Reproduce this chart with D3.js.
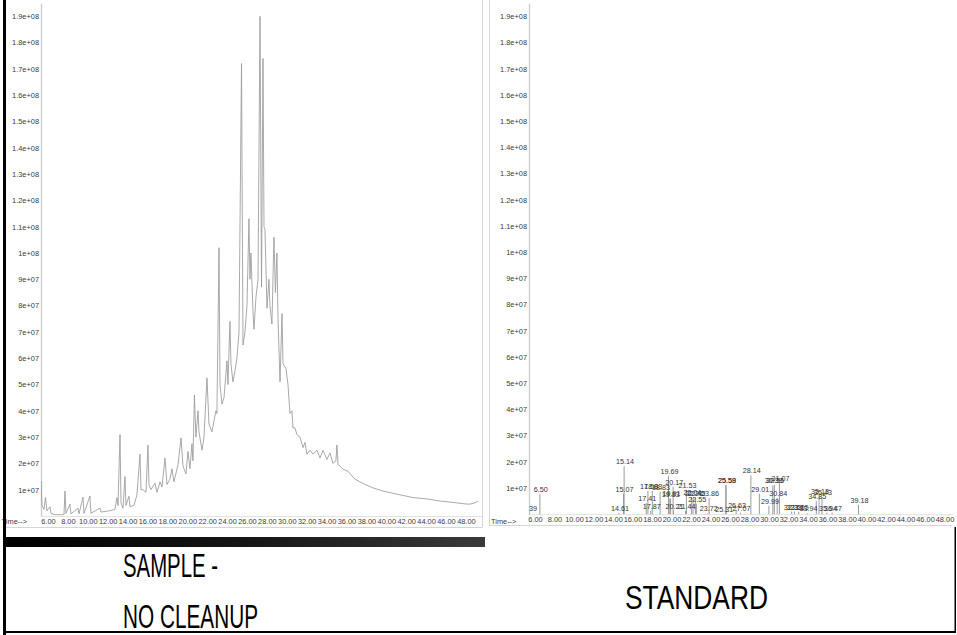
<!DOCTYPE html>
<html><head><meta charset="utf-8">
<script src="https://cdn.jsdelivr.net/npm/d3@7"></script>
<style>body{margin:0;background:#fff;} svg{display:block;font-family:"Liberation Sans",Arial,sans-serif;}</style>
</head><body><svg id="c" width="957" height="635"></svg>
<script>
// ---------- DATA (intensities in millions of counts, time in minutes) ----------
const yTickValues = [10,20,30,40,50,60,70,80,90,100,110,120,130,140,150,160,170,180,190];
const yTickLabels = ["1e+07","2e+07","3e+07","4e+07","5e+07","6e+07","7e+07","8e+07","9e+07","1e+08",
  "1.1e+08","1.2e+08","1.3e+08","1.4e+08","1.5e+08","1.6e+08","1.7e+08","1.8e+08","1.9e+08"];
const timeTicks = [6,8,10,12,14,16,18,20,22,24,26,28,30,32,34,36,38,40,42,44,46,48];
const timeTickLabels = ["6.00","8.00","10.00","12.00","14.00","16.00","18.00","20.00","22.00","24.00","26.00",
  "28.00","30.00","32.00","34.00","36.00","38.00","40.00","42.00","44.00","46.00","48.00"];

// Sample (no cleanup) total ion chromatogram: [time, intensity]
const sampleTrace = [
 [5.25,5],[5.30,13.3],[5.40,4],[5.60,2.5],[5.75,7],[5.90,2],[6.20,3.5],[6.30,1],[6.70,0.5],[7.61,0.5],
 [7.71,9.5],[7.81,1],[8.21,4.5],[8.31,0.8],[9.02,3],[9.12,0.8],[9.52,7.2],[9.62,1],[10.22,7.6],[10.32,1],
 [11.23,3],[11.33,1.5],[12.23,2],[12.73,2.5],[12.93,7],[13.04,4],[13.24,31],[13.34,5],[13.54,3],[13.74,15],
 [13.84,4],[14.14,7.5],[14.24,3.5],[14.64,4],[14.94,8],[15.25,23.5],[15.35,10],[15.55,10],[15.85,9],[16.05,27],
 [16.15,12],[16.35,10],[16.75,12.5],[16.95,9],[17.26,13],[17.46,11],[17.76,22],[17.96,12],[18.26,14],[18.46,18],
 [18.66,13],[19.07,19.5],[19.37,29.7],[19.57,19],[19.87,16],[20.07,24.5],[20.27,18],[20.47,27.5],[20.57,21],[20.72,46],
 [20.87,30],[21.08,40],[21.18,32],[21.48,25],[21.68,30],[21.98,52.5],[22.18,35],[22.48,32],[22.68,36],[22.88,40],
 [22.98,39],[23.19,102],[23.29,50],[23.49,42.5],[23.69,45],[23.99,59],[24.09,50],[24.29,74],[24.39,58],[24.59,51],
 [24.79,55],[24.99,60],[25.20,70],[25.45,172],[25.60,65],[25.80,70],[26.00,80],[26.20,113],[26.30,90],[26.40,100],
 [26.60,78],[26.70,71],[26.90,83],[27.11,90],[27.31,190],[27.46,87],[27.61,174],[27.71,110],[27.81,109],[28.01,79],
 [28.21,90],[28.31,80],[28.51,73],[28.71,106],[28.86,85],[29.01,100],[29.12,75],[29.32,51],[29.52,77],[29.62,58],
 [29.92,56],[30.12,50],[30.32,39],[30.52,40],[30.62,33.5],[30.82,33.5],[31.02,31],[31.33,30],[31.63,26],[31.83,28],
 [32.03,23.5],[32.33,25],[32.63,23.5],[33.03,25],[33.34,22],[33.64,25],[34.04,21.5],[34.34,24],[34.64,20],[34.94,21],
 [35.04,27],[35.15,19.7],[35.65,17.8],[36.15,17],[36.85,14],[37.86,12],[38.66,10.7],[39.67,9.5],[41.07,8.3],[42.68,7],
 [44.09,6.5],[44.89,6],[45.40,5.7],[45.90,5.5],[47.10,5],[47.91,4.6],[48.41,4.5],[48.91,5],[49.22,5.7]
];

// Standard: integrated peaks (retention time, apex height, label)
const stdPeakTimes = [5.39,6.50,14.61,15.07,15.14,17.41,17.58,17.87,18.03,18.83,19.69,19.83,19.91,20.17,20.21,
  21.44,21.53,22.04,22.21,22.45,22.55,23.72,23.86,25.31,25.58,25.59,26.63,27.07,28.14,29.01,29.99,30.39,30.55,
  30.84,31.07,32.33,32.61,33.05,33.94,34.85,35.13,35.43,35.94,36.47,39.18];
const stdPeakHeights = [0.6,7.6,0.5,7.8,18.3,4.3,8.9,1.3,8.9,8.6,14.6,5.9,6.0,10.4,1.3,
  1.3,9.3,6.4,6.2,6.0,4.0,0.3,6.2,0.2,11.0,11.2,1.7,0.6,14.8,7.8,3.2,11.0,11.2,
  6.2,12.0,1.0,1.0,0.9,0.3,5.0,6.8,6.5,0.6,0.6,3.6];
const stdPeakLabels = ["5.39","6.50","14.61","15.07","15.14","17.41","17.58","17.87","18.03","18.83","19.69","19.83","19.91","20.17","20.21",
  "21.44","21.53","22.04","22.21","22.45","22.55","23.72","23.86","25.31","25.58","25.59","26.63","27.07","28.14","29.01","29.99","30.39","30.55",
  "30.84","31.07","32.33","32.61","33.05","33.94","34.85","35.13","35.43","35.94","36.47","39.18"];

const panelTitles = ["SAMPLE -","NO CLEANUP","STANDARD"];

// ---------- DRAWING ----------
const svg = d3.select("#c");
const defs = svg.append("defs");
const TXT = "#3a3a3a";

function drawAxes(g, x, y, x0, yBase) {
  const ya = d3.axisLeft(y).tickValues(yTickValues).tickFormat((d,i)=>yTickLabels[i]).tickSize(0).tickPadding(2);
  const ga = g.append("g").attr("transform",`translate(${x0},0)`).call(ya);
  ga.select(".domain").attr("stroke","#cfcfcf").attr("stroke-width",1.4);
  ga.selectAll("text").attr("font-size",7.4).attr("fill",TXT).attr("font-family","Liberation Sans, Arial, sans-serif");
  const xa = d3.axisBottom(x).tickValues(timeTicks).tickFormat((d,i)=>timeTickLabels[i]).tickSize(0).tickPadding(2.5);
  const gx = g.append("g").attr("transform",`translate(0,${yBase})`).call(xa);
  gx.select(".domain").attr("stroke","#c4c4c4").attr("stroke-dasharray","1,1");
  gx.selectAll("text").attr("font-size",7.4).attr("fill",TXT).attr("font-family","Liberation Sans, Arial, sans-serif");
}

// ---- Left panel: sample ----
const xL = d3.scaleLinear().domain([5.3, 49.62]).range([41, 482]);
const yL = d3.scaleLinear().domain([0, 195]).range([516, 3.15]);
const gL = svg.append("g");
defs.append("clipPath").attr("id","clipL").append("rect").attr("x",41).attr("y",0).attr("width",441).attr("height",517);
drawAxes(gL, xL, yL, 41, 516);
gL.append("path").datum(sampleTrace)
  .attr("clip-path","url(#clipL)")
  .attr("d", d3.line().x(d=>xL(d[0])).y(d=>yL(d[1])))
  .attr("fill","none").attr("stroke","#9a9a9a").attr("stroke-width",0.85).attr("stroke-linejoin","round");
gL.append("text").attr("x",27).attr("y",523.5).attr("text-anchor","end").attr("font-size",7.4).attr("fill",TXT).text("Time-->");
gL.append("line").attr("x1",482.5).attr("x2",482.5).attr("y1",0).attr("y2",527).attr("stroke","#d6d6d6");
gL.append("line").attr("x1",5).attr("x2",482.5).attr("y1",527.5).attr("y2",527.5).attr("stroke","#d6d6d6");

// ---- Right panel: standard ----
const xR = d3.scaleLinear().domain([5.385, 48.8]).range([529, 952.3]);
const yR = d3.scaleLinear().domain([0, 195]).range([514.2, 3.3]);
const gR = svg.append("g");
defs.append("clipPath").attr("id","clipR").append("rect").attr("x",529).attr("y",0).attr("width",423).attr("height",515);
drawAxes(gR, xR, yR, 529, 514.2);
const peaks = stdPeakTimes.map((t,i)=>({t, h:stdPeakHeights[i], label:stdPeakLabels[i]}));
const pg = gR.append("g").attr("clip-path","url(#clipR)");
pg.selectAll("line.pk").data(peaks).join("line").attr("class","pk")
  .attr("x1",d=>xR(d.t)).attr("x2",d=>xR(d.t)).attr("y1",yR(0)).attr("y2",d=>yR(d.h))
  .attr("stroke","#8f8f8f").attr("stroke-width",0.9);
pg.selectAll("text.pl").data(peaks).join("text").attr("class","pl")
  .attr("x",d=>xR(d.t)+1).attr("y",d=>yR(d.h)-2)
  .attr("text-anchor","middle").attr("font-size",7.2).attr("fill","#333").text(d=>d.label);
gR.append("text").attr("x",491).attr("y",523.5).attr("font-size",7.4).attr("fill",TXT).text("Time-->");
gR.append("line").attr("x1",489.5).attr("x2",489.5).attr("y1",0).attr("y2",526).attr("stroke","#d6d6d6");
gR.append("line").attr("x1",489.5).attr("x2",952).attr("y1",525.5).attr("y2",525.5).attr("stroke","#d6d6d6");

// ---- black bar under left chart ----
const grad = defs.append("linearGradient").attr("id","barG").attr("x1","0").attr("x2","1").attr("y1","0").attr("y2","0");
grad.append("stop").attr("offset","0").attr("stop-color","#000");
grad.append("stop").attr("offset","0.5").attr("stop-color","#151515");
grad.append("stop").attr("offset","1").attr("stop-color","#3a3a3a");
svg.append("rect").attr("x",4).attr("y",537).attr("width",481).attr("height",10).attr("fill","url(#barG)");

// ---- outer black frame ----
svg.append("rect").attr("x",3).attr("y",0).attr("width",3).attr("height",635).attr("fill","#000");
svg.append("rect").attr("x",3).attr("y",631).attr("width",953).attr("height",2).attr("fill","#000");
svg.append("rect").attr("x",954.5).attr("y",527).attr("width",1.5).attr("height",106).attr("fill","#000");

// ---- captions ----
const cap = [
  {x:123, y:577, w:95, t:panelTitles[0]},
  {x:123, y:628, w:135, t:panelTitles[1]},
  {x:625, y:609, w:143, t:panelTitles[2]}
];
svg.selectAll("text.cap").data(cap).join("text").attr("class","cap")
  .attr("x",d=>d.x).attr("y",d=>d.y).attr("font-size",33).attr("fill","#000")
  .attr("textLength",d=>d.w).attr("lengthAdjust","spacingAndGlyphs").text(d=>d.t);
</script>
</body></html>
